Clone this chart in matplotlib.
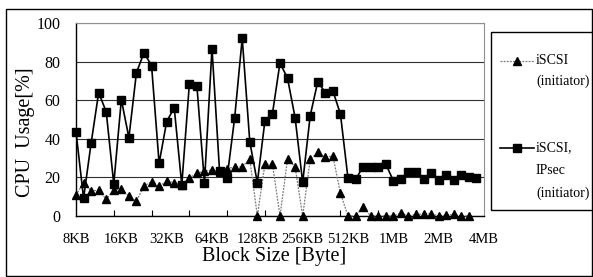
import matplotlib
matplotlib.use("Agg")
import matplotlib.pyplot as plt
from matplotlib.lines import Line2D
from matplotlib.patches import Rectangle

plt.rcParams["font.family"] = ["Liberation Serif", "DejaVu Serif"]

# CPU usage [%] per block size step
iscsi = [10.9, 17.2, 13.1, 13.3, 8.6, 13.6, 14.0, 10.3, 7.8, 15.6,
         17.8, 15.3, 18.1, 17.3, 16.0, 19.8, 22.1, 23.3, 23.8, 23.0,
         24.4, 25.5, 25.5, 29.4, 0.0, 26.8, 26.8, 0.0, 29.5, 25.5,
         0.0, 29.4, 33.0, 30.5, 31.1, 11.8, 0.0, 0.0, 4.8, 0.0,
         0.0, 0.0, 0.0, 1.5, 0.0, 0.8, 1.0, 1.2, 0.0, 0.5,
         0.8, 0.0, 0.0]
ipsec = [43.7, 9.2, 37.7, 63.9, 54.0, 16.6, 60.3, 40.6, 74.3, 84.6,
         77.9, 27.3, 48.9, 56.1, 16.1, 68.2, 67.5, 17.3, 86.7, 23.3,
         19.9, 50.9, 92.1, 38.5, 17.3, 49.2, 53.0, 79.4, 71.3, 50.9,
         17.4, 52.0, 69.6, 63.9, 64.8, 52.8, 19.5, 19.0, 25.5, 25.5,
         25.5, 26.9, 18.3, 19.0, 22.6, 23.0, 19.2, 22.4, 18.7, 21.2,
         18.7, 21.2, 20.4, 19.5]

x_labels = ["8KB", "16KB", "32KB", "64KB", "128KB", "256KB",
            "512KB", "1MB", "2MB", "4MB"]
y_ticks = [0, 20, 40, 60, 80, 100]

W, H = 593, 277
fig = plt.figure(figsize=(W / 100, H / 100), dpi=100)
ax = fig.add_axes([76 / W, 1 - 216 / H, (484 - 76) / W, (216 - 23) / H])

ax.plot(range(len(iscsi)), iscsi, color="#7a7a7a", lw=0.9,
        ls=(0, (1.5, 1)), marker="^", ms=6, mfc="black", mec="black",
        clip_on=False, zorder=3)
ax.plot(range(len(ipsec)), ipsec, color="black", lw=1.2,
        marker="s", ms=5.5, mfc="black", mec="black", clip_on=False, zorder=4)

ax.set_xlim(0, 54)
ax.set_ylim(0, 100)
ax.set_yticks(y_ticks)
ax.yaxis.grid(True, color="#303030", lw=0.8)
ax.set_axisbelow(True)
ax.tick_params(axis="y", length=0, pad=11, labelsize=11.5)

step = 54 / (len(x_labels) - 1)
ax.set_xticks([i * step for i in range(len(x_labels))], x_labels)
ax.set_xticks(range(5, 54, 5), minor=True)
ax.tick_params(axis="x", which="major", length=0, pad=12.5, labelsize=10.5)
ax.tick_params(axis="x", which="minor", direction="in", length=4, width=0.8)

for side in ("top", "right"):
    ax.spines[side].set_color("#909090")
for side in ("left", "bottom"):
    ax.spines[side].set_color("black")
    ax.spines[side].set_linewidth(1.0)

ax.set_ylabel("CPU  Usage[%]", fontsize=14.5)
ax.yaxis.set_label_coords(-0.1, 0.435)
ax.set_xlabel("Block Size [Byte]", fontsize=14.5)
ax.xaxis.set_label_coords(0.485, -0.16)

# outer frame and legend box
fig.patches.append(Rectangle((6 / W, 1 / H), (W - 7) / W, (H - 10) / H,
                             transform=fig.transFigure, fill=False,
                             ec="black", lw=1.0))
fig.patches.append(Rectangle((491 / W, 1 - 210 / H), 110 / W, 178 / H,
                             transform=fig.transFigure, fill=False,
                             ec="black", lw=1.0))

def fx(px):
    return px / W

def fy(py):
    return 1 - py / H

fig.lines.append(Line2D([fx(500), fx(534)], [fy(61), fy(61)],
                        transform=fig.transFigure, color="#7a7a7a",
                        lw=0.9, ls=(0, (1.5, 1))))
fig.lines.append(Line2D([fx(517)], [fy(61)], transform=fig.transFigure,
                        marker="^", ms=6, color="black", ls="none"))
fig.text(fx(536), fy(61), "iSCSI", fontsize=10, va="center")
fig.text(fx(536), fy(81), "(initiator)", fontsize=10, va="center")

fig.lines.append(Line2D([fx(500), fx(534)], [fy(148), fy(148)],
                        transform=fig.transFigure, color="black", lw=1.2))
fig.lines.append(Line2D([fx(517)], [fy(148)], transform=fig.transFigure,
                        marker="s", ms=5.5, color="black", ls="none"))
fig.text(fx(536), fy(148), "iSCSI,", fontsize=10, va="center")
fig.text(fx(536), fy(170), "IPsec", fontsize=10, va="center")
fig.text(fx(536), fy(193), "(initiator)", fontsize=10, va="center")

fig.savefig("out.png", dpi=100)
